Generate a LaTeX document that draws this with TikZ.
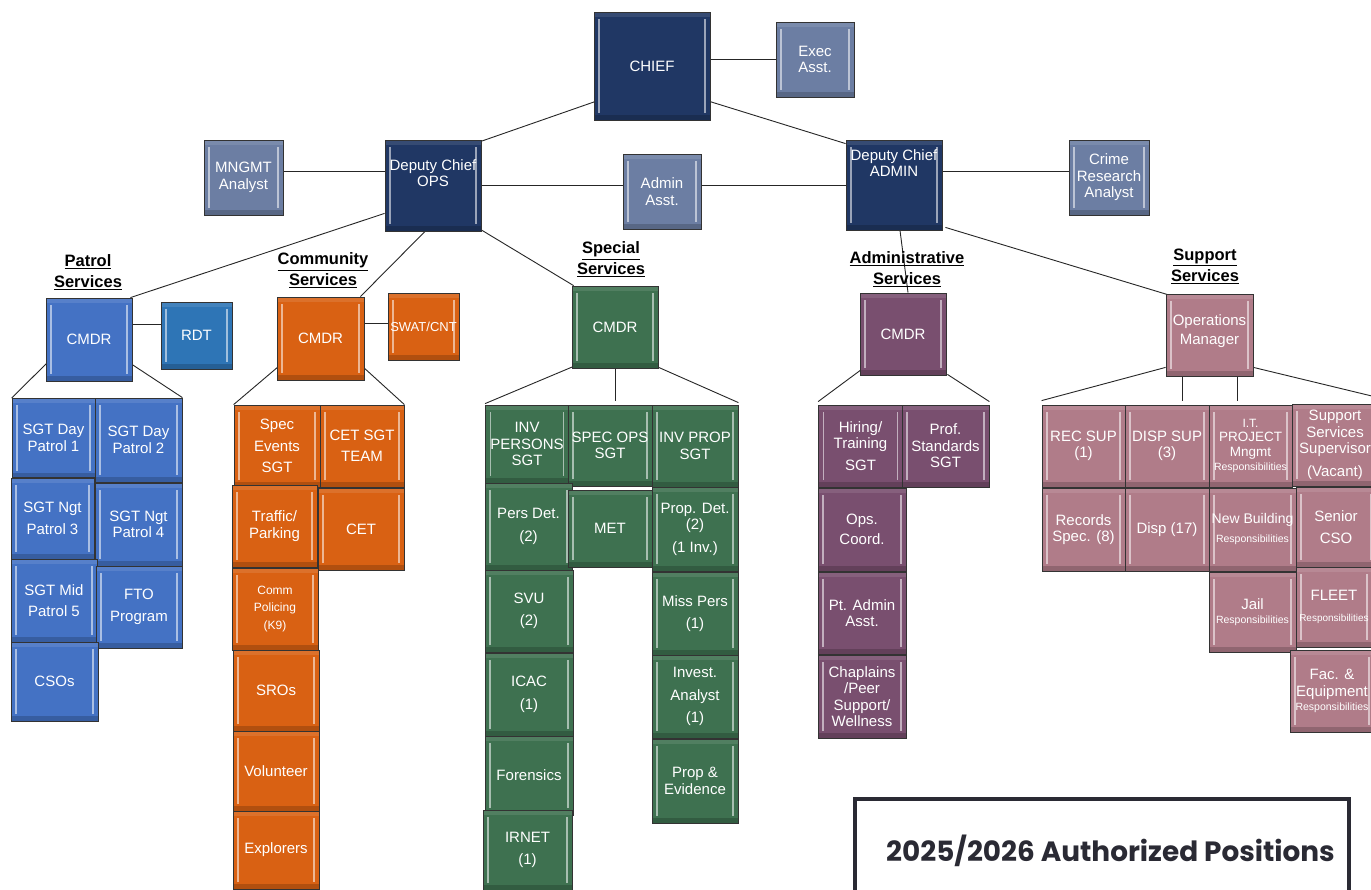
\documentclass[tikz,border=0pt]{standalone}
\usepackage{fontspec}
\setmainfont{Liberation Sans}
\newfontfamily\popfont{Poppins}
\usetikzlibrary{backgrounds}
\definecolor{navy}{RGB}{32,55,100}
\definecolor{slate}{RGB}{108,126,163}
\definecolor{pblue}{RGB}{68,114,196}
\definecolor{rdtc}{RGB}{46,117,182}
\definecolor{orng}{RGB}{217,97,19}
\definecolor{grn}{RGB}{62,113,80}
\definecolor{purp}{RGB}{121,79,111}
\definecolor{pink}{RGB}{176,124,137}
\definecolor{titlec}{RGB}{42,42,52}
\tikzset{
  box/.style={rectangle, draw=black!80, line width=0.8pt, inner sep=1pt, text=white, align=center,
    font=\fontsize{15}{16.5}\selectfont,
    path picture={
      \fill[black,opacity=.18] (path picture bounding box.south west) rectangle ([yshift=5pt]path picture bounding box.south east);
      \fill[white,opacity=.10] (path picture bounding box.north west) rectangle ([yshift=-5pt]path picture bounding box.north east);
      \draw[white,opacity=.55,line width=1.4pt] ([shift={(5pt,7pt)}]path picture bounding box.south west) -- ([shift={(5pt,-7pt)}]path picture bounding box.north west);
      \draw[white,opacity=.55,line width=1.4pt] ([shift={(-5pt,7pt)}]path picture bounding box.south east) -- ([shift={(-5pt,-7pt)}]path picture bounding box.north east);
    }},
  lbl/.style={text=white, align=center, inner sep=0pt, font=\fontsize{15}{16}\selectfont},
  sect/.style={align=center, inner sep=0pt, font=\bfseries\fontsize{16.5}{21}\selectfont},
  conn/.style={draw=black!85, line width=0.9pt},
}
\newcommand\bx[8][]{\node[box,fill=#3,minimum width=#6,minimum height=#7,#1] (#2) at (#4,#5) {#8};}
\newcommand\resp{{\fontsize{10.5}{12}\selectfont Responsibilities}}
\begin{document}
\begin{tikzpicture}[x=1pt,y=-1pt]
\useasboundingbox (0,0) rectangle (1371,890);
\clip (0,0) rectangle (1371,890);
% top
\bx{chief}{navy}{652}{66}{116}{108}{CHIEF}
\bx{exec}{slate}{815}{59.5}{78}{75}{Exec\\Asst.}
\bx{mngmt}{slate}{243.5}{177.5}{79}{75}{MNGMT\\Analyst}
\bx[label={[lbl,anchor=north,yshift=-20pt]north:Deputy Chief\\OPS}]{depops}{navy}{433}{185.5}{96}{91}{}
\bx{adminasst}{slate}{662}{191.5}{78}{75}{Admin\\Asst.}
\bx[label={[lbl,anchor=north,yshift=-9.5pt]north:Deputy Chief\\ADMIN}]{depadmin}{navy}{894}{185}{96}{90}{}
\bx{crime}{slate}{1109}{177.5}{80}{75}{Crime\\Research\\Analyst}
% section labels
\node[sect] (lpatrol) at (88,272) {\underline{Patrol}\\\underline{Services}};
\node[sect] (lcomm) at (323,270.5) {\underline{Community}\\\underline{Services}};
\node[sect] (lspec) at (611,259.5) {\underline{Special}\\\underline{Services}};
\node[sect] (ladmin) at (907,269.5) {\underline{Administrative}\\\underline{Services}};
\node[sect] (lsupp) at (1205,266.5) {\underline{Support}\\\underline{Services}};
% patrol
\bx{pcmdr}{pblue}{89}{339.5}{86}{83}{CMDR}
\bx{rdt}{rdtc}{196.5}{335.5}{71}{67}{RDT}
\bx{sgt1}{pblue}{53.5}{438}{83}{79}{SGT Day\\Patrol 1}
\bx{sgt2}{pblue}{138.5}{440}{87}{84}{SGT Day\\Patrol 2}
\bx{sgt3}{pblue}{52.5}{518.5}{83}{81}{SGT Ngt\\[5pt]Patrol 3}
\bx{sgt4}{pblue}{138.5}{524.5}{87}{83}{SGT Ngt\\Patrol 4}
\bx{sgt5}{pblue}{54}{600.5}{86}{83}{SGT Mid\\[5pt]Patrol 5}
\bx{fto}{pblue}{139}{607}{86}{82}{FTO\\[5pt]Program}
\bx{csos}{pblue}{54.5}{681.5}{87}{79}{CSOs}
% community
\bx{ccmdr}{orng}{320.5}{338.5}{87}{83}{CMDR}
\bx[font=\fontsize{13}{15}\selectfont]{swat}{orng}{423.5}{326.5}{71}{67}{SWAT/CNT}
\bx{spec}{orng}{277}{446}{86}{82}{Spec\\[5pt]Events\\[5pt]SGT}
\bx{cetsgt}{orng}{362}{446}{84}{82}{CET SGT\\[5pt]TEAM}
\bx{traffic}{orng}{274.5}{526}{85}{82}{Traffic/\\Parking}
\bx{cet}{orng}{361}{529}{86}{82}{CET}
\bx[font=\fontsize{12}{17.5}\selectfont]{comm}{orng}{275}{609}{86}{82}{Comm\\Policing\\(K9)}
\bx{sros}{orng}{276}{690.5}{86}{81}{SROs}
\bx{vol}{orng}{276}{771}{86}{80}{Volunteer}
\bx{expl}{orng}{276}{850}{86}{78}{Explorers}
% special
\bx{scmdr}{grn}{615}{327}{86}{82}{CMDR}
\bx{invpers}{grn}{527}{444}{83}{78}{INV\\PERSONS\\SGT}
\bx{specops}{grn}{610}{445.5}{84}{81}{SPEC OPS\\SGT}
\bx{invprop}{grn}{695}{446}{86}{82}{INV PROP\\SGT}
\bx{persdet}{grn}{528.5}{526.5}{87}{87}{Pers Det.\\[6pt](2)}
\bx{met}{grn}{610}{528.5}{84}{77}{MET}
\bx{propdet}{grn}{695}{529}{86}{84}{Prop. Det.\\(2)\\[6pt](1 Inv.)}
\bx{svu}{grn}{529}{611}{88}{82}{SVU\\[6pt](2)}
\bx{misspers}{grn}{695}{613.5}{86}{83}{Miss Pers\\[6pt](1)}
\bx{icac}{grn}{529}{694.5}{88}{83}{ICAC\\[7pt](1)}
\bx{invest}{grn}{695}{696.5}{86}{83}{Invest.\\[6pt]Analyst\\[6pt](1)}
\bx{foren}{grn}{529}{775.5}{88}{79}{Forensics}
\bx{propev}{grn}{695}{781}{86}{84}{Prop \&\\Evidence}
\bx{irnet}{grn}{527.5}{850}{89}{80}{IRNET\\[6pt](1)}
% administrative
\bx{acmdr}{purp}{903}{334}{86}{82}{CMDR}
\bx{hiring}{purp}{860.5}{446}{84}{82}{Hiring/\\Training\\[5pt]SGT}
\bx{prof}{purp}{945.5}{446}{87}{82}{Prof.\\Standards\\SGT}
\bx{opsc}{purp}{862}{529.5}{88}{83}{Ops.\\[4pt]Coord.}
\bx{ptadmin}{purp}{862}{613}{88}{82}{Pt. Admin\\Asst.}
\bx{chap}{purp}{862}{696.5}{88}{83}{Chaplains\\/Peer\\Support/\\Wellness}
% support
\bx[label={[lbl,font=\fontsize{15}{19}\selectfont,anchor=north,yshift=-20.5pt]north:Operations\\Manager}]{om}{pink}{1209.5}{335}{87}{82}{}
\bx{recsup}{pink}{1083.5}{446}{83}{82}{REC SUP\\(1)}
\bx{dispsup}{pink}{1167}{446}{84}{82}{DISP SUP\\(3)}
\bx[font=\fontsize{13.5}{14.5}\selectfont]{it}{pink}{1250.5}{446}{83}{82}{{\fontsize{12}{14}\selectfont I.T.}\\PROJECT\\Mngmt\\\resp}
\bx{sss}{pink}{1335}{445}{86}{82}{Support\\Services\\Supervisor\\[6pt](Vacant)}
\bx{recspec}{pink}{1083.5}{529.5}{83}{83}{Records\\Spec. (8)}
\bx{disp}{pink}{1167}{529.5}{84}{83}{Disp (17)}
\bx[font=\fontsize{14}{17}\selectfont]{newb}{pink}{1252.5}{529.5}{87}{83}{New Building\\[2pt]\resp}
\bx{senior}{pink}{1336}{527}{80}{80}{Senior\\[5pt]CSO}
\bx[font=\fontsize{15}{14}\selectfont]{jail}{pink}{1252.5}{612}{87}{80}{Jail\\\resp}
\bx{fleet}{pink}{1334}{607}{76}{80}{FLEET\\[4pt]{\fontsize{10}{12}\selectfont Responsibilities}}
\bx{fac}{pink}{1332}{691}{84}{82}{Fac. \&\\Equipment\\[-2pt]\resp}
% title
\node[draw=titlec, line width=4pt, minimum width=494, minimum height=106, inner sep=0pt] (frame) at (1102,852) {};
\node[text=titlec, inner sep=0pt, font=\popfont\bfseries\fontsize{27.9}{30}\selectfont] (title) at (1110.5,851) {2025/2026 Authorized Positions};
% connectors
\begin{scope}[on background layer]
\clip (0,0) rectangle (1371,890);
\fill[white] (0,0) rectangle (1371,890);
\draw[conn] (exec.west -| chief.east) -- (exec.west);
\coordinate (m1) at ([yshift=6.5pt]mngmt.east);
\draw[conn] (m1) -- (m1 -| depops.west);
\draw[conn] (depops.east) -- (depops.east -| adminasst.west);
\draw[conn] (depops.east -| adminasst.east) -- (depops.east -| depadmin.west);
\coordinate (d1) at ([yshift=14pt]depadmin.east);
\draw[conn] (d1) -- (d1 -| crime.west);
\draw[conn] ([shift={(2pt,19pt)}]chief.south west) -- ([shift={(-4pt,-3pt)}]depops.north east);
\draw[conn] ([shift={(-1pt,19pt)}]chief.south east) -- ([shift={(0pt,-4pt)}]depadmin.north west);
\draw[conn] ([yshift=18pt]depops.south west) -- ([xshift=-2pt]pcmdr.north east);
\draw[conn] ([shift={(-5pt,3pt)}]depops.south) -- ([xshift=-4pt]ccmdr.north east);
\draw[conn] ([shift={(-1pt,2pt)}]depops.south east) -- ([xshift=2pt]scmdr.north west);
\draw[conn] ([xshift=6pt]depadmin.south) -- ([xshift=5pt]acmdr.north);
\draw[conn] ([shift={(3pt,3pt)}]depadmin.south east) -- ([shift={(2pt,-1pt)}]om.north west);
\coordinate (p1) at ([yshift=15pt]pcmdr.east);
\draw[conn] (p1) -- (p1 -| rdt.west);
\draw[conn] ([shift={(3pt,20pt)}]pcmdr.south west) -- (sgt1.north west);
\draw[conn] ([shift={(-2pt,18pt)}]pcmdr.south east) -- (sgt2.north east);
\coordinate (q1) at ([yshift=15.5pt]ccmdr.east);
\draw[conn] (q1) -- (q1 -| swat.west);
\draw[conn] ([shift={(2pt,14pt)}]ccmdr.south west) -- (spec.north west);
\draw[conn] ([shift={(-2pt,14pt)}]ccmdr.south east) -- (cetsgt.north east);
\draw[conn] ([shift={(2pt,2pt)}]scmdr.south west) -- ([yshift=1pt]invpers.north west);
\coordinate (s2) at ([yshift=4pt]specops.north);
\draw[conn] (scmdr.south) -- (scmdr.south |- s2);
\draw[conn] ([shift={(-2pt,2pt)}]scmdr.south east) -- ([yshift=2pt]invprop.north east);
\draw[conn] ([shift={(2pt,6pt)}]acmdr.south west) -- ([yshift=3pt]hiring.north west);
\draw[conn] ([shift={(1pt,1pt)}]acmdr.south east) -- ([yshift=3pt]prof.north east);
\draw[conn] ([yshift=9pt]om.south west) -- ([yshift=4pt]recsup.north west);
\coordinate (t1) at ([yshift=4pt]dispsup.north);
\coordinate (o1) at ([xshift=-27.5pt]om.south);
\coordinate (o2) at ([xshift=27.5pt]om.south);
\draw[conn] (o1) -- (o1 |- t1);
\draw[conn] (o2) -- (o2 |- t1);
\draw[conn] ([yshift=9pt]om.south east) -- ([yshift=6pt]sss.north east);
\end{scope}
\end{tikzpicture}
\end{document}
